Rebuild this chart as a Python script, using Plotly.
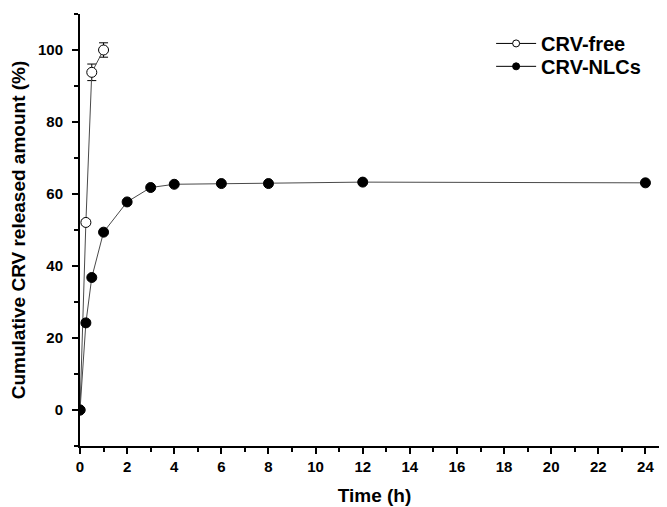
import plotly.graph_objects as go

time_free = [0, 0.25, 0.5, 1]
free_vals = [0, 52.1, 93.8, 100.0]
free_err = [0, 0.6, 2.3, 2.0]

time_nlc = [0, 0.25, 0.5, 1, 2, 3, 4, 6, 8, 12, 24]
nlc_vals = [0, 24.2, 36.8, 49.4, 57.8, 61.8, 62.7, 62.9, 62.9, 63.3, 63.1]

x_ticks = list(range(0, 25, 2))
y_ticks = [0, 20, 40, 60, 80, 100]

font_family = "Liberation Sans, Arial, sans-serif"
line_col = "#4a4a4a"

fig = go.Figure()
fig.add_trace(go.Scatter(
    x=time_free, y=free_vals, mode="lines+markers", name="CRV-free", showlegend=False,
    line=dict(color=line_col, width=1),
    marker=dict(symbol="circle", size=10, color="white", line=dict(color="black", width=1)),
    error_y=dict(type="data", array=free_err, color="black", thickness=1, width=4.5),
))
fig.add_trace(go.Scatter(
    x=time_nlc, y=nlc_vals, mode="lines+markers", name="CRV-NLCs", showlegend=False,
    line=dict(color=line_col, width=1),
    marker=dict(symbol="circle", size=10, color="black", line=dict(color="black", width=1)),
))
# legend entries (smaller symbols, as in the reference legend)
fig.add_trace(go.Scatter(
    x=[None], y=[None], mode="lines+markers", name="<b>CRV-free</b>", legend="legend",
    line=dict(color="black", width=1),
    marker=dict(symbol="circle", size=7, color="white", line=dict(color="black", width=1)),
))
fig.add_trace(go.Scatter(
    x=[None], y=[None], mode="lines+markers", name="<b>CRV-NLCs</b>", legend="legend2",
    line=dict(color="black", width=1),
    marker=dict(symbol="circle", size=7, color="black", line=dict(color="black", width=1)),
))

leg_common = dict(xanchor="left", yanchor="top",
                  font=dict(size=20, family=font_family, color="black"),
                  bgcolor="rgba(0,0,0,0)", tracegroupgap=0, itemwidth=40)

fig.update_layout(
    width=667, height=507,
    margin=dict(l=72, r=6, t=6, b=69, autoexpand=False),
    paper_bgcolor="white", plot_bgcolor="white",
    font=dict(family=font_family, color="black"),
    showlegend=True,
    legend=dict(x=0.698, y=0.977, **leg_common),
    legend2=dict(x=0.698, y=0.924, **leg_common),
    xaxis=dict(
        range=[0, 25], tickvals=x_ticks, ticktext=[f"<b>{v}</b>" for v in x_ticks],
        showline=True, linecolor="black", linewidth=2, mirror=False,
        ticks="outside", ticklen=6, tickwidth=2, tickcolor="black",
        minor=dict(dtick=1, ticks="outside", ticklen=4, tickwidth=2, tickcolor="black"),
        showgrid=False, zeroline=False, automargin=False,
        tickfont=dict(size=15, family=font_family),
        title=dict(text="<b>Time (h)</b>", font=dict(size=19, family=font_family), standoff=15),
    ),
    yaxis=dict(
        range=[-10, 110], tickvals=y_ticks, ticktext=[f"<b>{v}</b>" for v in y_ticks],
        showline=True, linecolor="black", linewidth=2, mirror=False,
        ticks="outside", ticklen=6, tickwidth=2, tickcolor="black",
        minor=dict(tickvals=[-10, 10, 30, 50, 70, 90, 110], ticks="outside", ticklen=4, tickwidth=2, tickcolor="black"),
        showgrid=False, zeroline=False, automargin=False,
        tickfont=dict(size=15, family=font_family), ticklabelstandoff=6,
        title=dict(text="<b>Cumulative CRV released amount (%)</b>", font=dict(size=19, family=font_family), standoff=10),
    ),
)

fig.write_html("out.html")
